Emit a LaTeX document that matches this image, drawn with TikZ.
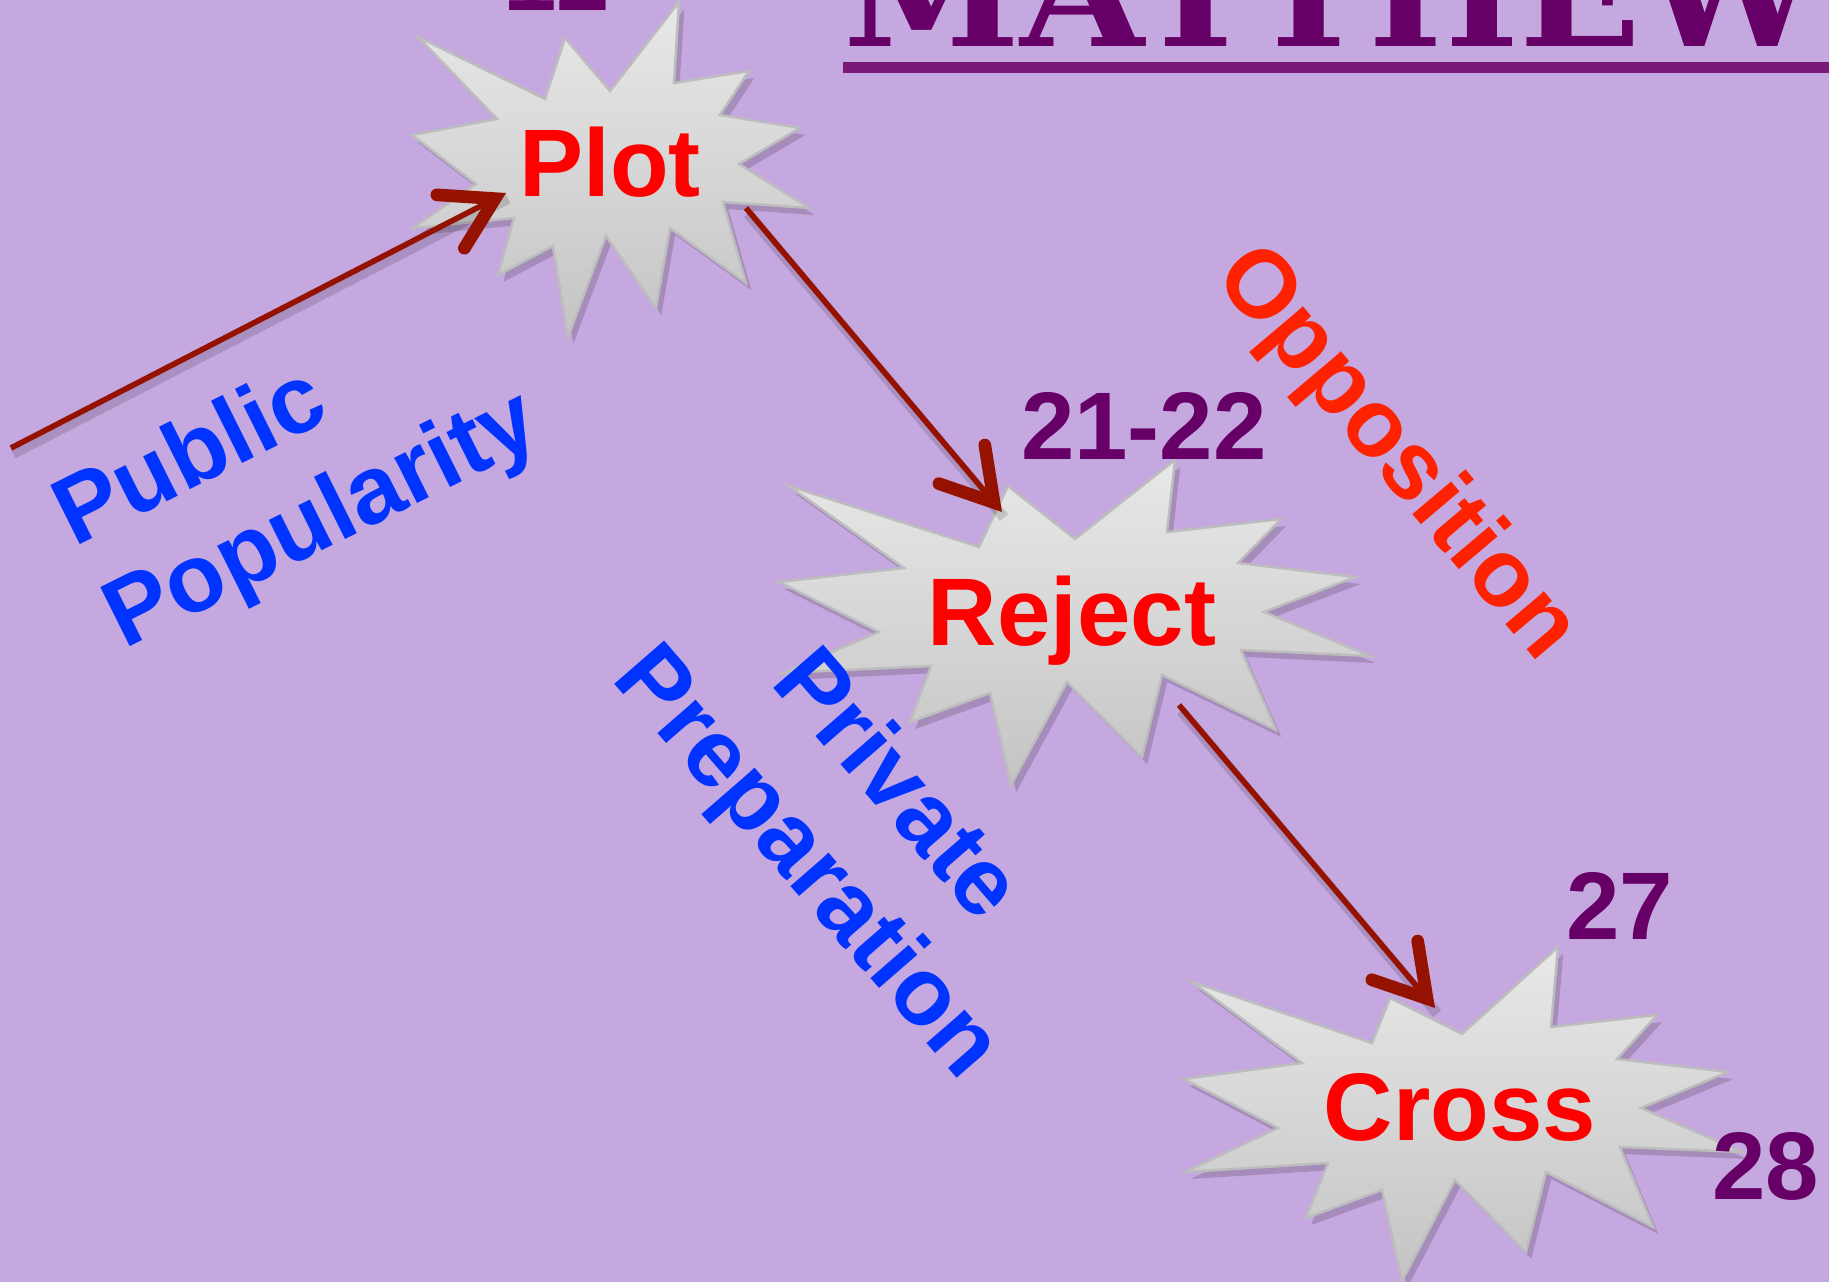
\documentclass[tikz,border=0pt]{standalone}
\usepackage{fontspec}
\setmainfont{Liberation Sans}
\newfontfamily\titlefont{DejaVu Serif}
\usetikzlibrary{arrows.meta,shadows}
\definecolor{bgc}{HTML}{C5A8E0}
\definecolor{arrowred}{HTML}{951200}
\definecolor{numpurple}{HTML}{660066}
\definecolor{ruleP}{HTML}{7A1A78}
\definecolor{lblue}{HTML}{0033FF}
\definecolor{opred}{HTML}{FF2200}
\definecolor{starTop}{HTML}{E8E8E8}
\definecolor{starBot}{HTML}{C4C4C4}
\definecolor{starEdge}{HTML}{BDBDBD}
\begin{document}
\begin{tikzpicture}[x=0.01cm,y=-0.01cm,
  starshape/.style={draw=starEdge, line width=0.7pt, line join=miter, top color=starTop, bottom color=starBot,
    drop shadow={shadow xshift=1.5pt, shadow yshift=-2pt, opacity=0.16, fill=black}},
  big/.style={font=\fontsize{27.3}{32}\selectfont\bfseries, inner sep=0pt},
  starlabel/.style={big, text=red, anchor=base},
  numlabel/.style={big, text=numpurple, anchor=base},
  bluelabel/.style={big, text=lblue},
  conn/.style={draw=arrowred, line width=1.6pt,
    preaction={draw=black, draw opacity=0.14, line width=3pt, -, transform canvas={xshift=0.6pt, yshift=-1.6pt}},
    -{Straight Barb[length=0.5cm, width=0.6cm, line width=3.6pt, line cap=round, line join=miter]}}
]
\useasboundingbox (0,0) rectangle (1829,1282);
\fill[bgc] (0,0) rectangle (1829,1282);
\clip (0,0) rectangle (1829,1282);

% title (cut off at the top)
\node[anchor=base west, inner sep=0pt, text=numpurple] (title) at (843,47)
  {\resizebox{9.77cm}{1.1cm}{\titlefont\bfseries MATTHEW}};
\fill[ruleP] (843,62) rectangle (1829,73);

% stars
\draw[starshape] (679,2) -- (674,83) -- (749,71) -- (720,115) -- (800,128) -- (739,164) -- (809,208) -- (723,202)
  -- (746,283) -- (670,228) -- (656,308) -- (606,236) -- (568,337) -- (553,246) -- (498,275) -- (514,218)
  -- (413,228) -- (476,184) -- (412,135) -- (497,119) -- (418,37) -- (545,99) -- (565,38) -- (610,91) -- cycle;
\draw[starshape] (1175,460) -- (1167,532) -- (1281,519) -- (1238,563) -- (1355,577) -- (1264,612) -- (1370,656)
  -- (1241,650) -- (1276,730) -- (1162,675) -- (1142,757) -- (1067,682) -- (1011,785) -- (990,693) -- (910,722)
  -- (931,666) -- (782,673) -- (879,632) -- (779,582) -- (904,568) -- (789,486) -- (979,547) -- (1008,486)
  -- (1075,539) -- cycle;
\draw[starshape] (1558,947) -- (1551,1027) -- (1657,1015) -- (1617,1059) -- (1728,1072) -- (1641,1108)
  -- (1742,1152) -- (1620,1147) -- (1653,1227) -- (1546,1172) -- (1526,1252) -- (1455,1180) -- (1402,1281)
  -- (1382,1190) -- (1306,1218) -- (1328,1163) -- (1185,1172) -- (1278,1128) -- (1184,1079) -- (1302,1063)
  -- (1192,982) -- (1372,1043) -- (1390,998) -- (1462,1034) -- cycle;

% star labels
\node[starlabel] (plot) at (610,197) {Plot};
\node[starlabel] (reject) at (1072,646) {Reject};
\node[starlabel] (cross) at (1460,1140) {Cross};

% chapter numbers
\node[numlabel] (n12) at (557,11) {12};
\node[numlabel] (n2122) at (1144,459) {21-22};
\node[numlabel] (n27) at (1620,939) {27};
\node[numlabel] (n28) at (1766,1199) {28};

% rotated labels
\node[bluelabel, anchor=base west, rotate=26.5] (public) at (74,548) {Public};
\node[bluelabel, anchor=base west, rotate=26.5] (popularity) at (124,650) {Popularity};
\node[bluelabel, anchor=base, rotate=-49] (private) at (875,804) {Private};
\node[bluelabel, anchor=base, rotate=-49] (preparation) at (786,881) {Preparation};
\node[big, text=opred, anchor=base, rotate=-49.8] (opposition) at (1376,471) {Opposition};

% connectors
\coordinate (ppStart) at (11,448);
\coordinate (plotIn) at (506,193);
\coordinate (plotOut) at (746,208);
\coordinate (rejectIn) at (1002,512);
\coordinate (rejectOut) at (1179,705);
\coordinate (crossIn) at (1435,1008);
\draw[conn] (ppStart) -- (plotIn);
\draw[conn] (plotOut) -- (rejectIn);
\draw[conn] (rejectOut) -- (crossIn);
\end{tikzpicture}
\end{document}
